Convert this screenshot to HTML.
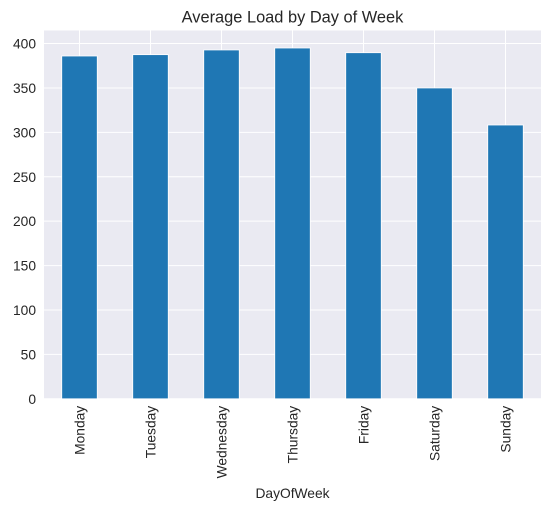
<!DOCTYPE html>
<html><head><meta charset="utf-8"><style>
body{margin:0;background:#fff;}
svg{display:block;font-family:"Liberation Sans","DejaVu Sans",sans-serif;}
</style></head><body>
<svg id="chart" width="548" height="512">
<text x="292.5" y="22.5" text-anchor="middle" font-size="16.4" fill="#262626">Average Load by Day of Week</text>
<rect x="44" y="30.5" width="497" height="368.3" fill="#eaeaf2"/>
<g id="grid"></g><g id="bars"></g><g id="ticks"></g>
<text x="292.5" y="498" text-anchor="middle" font-size="13.8" fill="#262626">DayOfWeek</text>
</svg>
<script>
const categories=["Monday","Tuesday","Wednesday","Thursday","Friday","Saturday","Sunday"];
const values=[386,387.5,392.8,395,389.7,350,308.3];
const yTicks=[0,50,100,150,200,250,300,350,400];
const NS="http://www.w3.org/2000/svg";
const L=44,R=541,B=398.8,T=30.5,YMAX=414.7;
const y=v=>B-(B-T)*v/YMAX;
const step=(R-L)/categories.length;
const x=i=>L+step*(i+0.5);
function mk(t,a,p){const e=document.createElementNS(NS,t);for(const k in a)e.setAttribute(k,a[k]);p.appendChild(e);return e;}
const g=document.getElementById('grid'),b=document.getElementById('bars'),tk=document.getElementById('ticks');
yTicks.forEach(v=>{
 const l=mk('line',{x1:L,x2:R,y1:y(v),y2:y(v),stroke:'#fff','stroke-width':1},g);
 
 
 const t=mk('text',{x:L-8,y:y(v)+5,'text-anchor':'end','font-size':13.8,fill:'#262626'},tk);
 t.textContent=v;
 
 
});
categories.forEach((c,i)=>{
 const l=mk('line',{x1:x(i),x2:x(i),y1:T,y2:B,stroke:'#fff','stroke-width':1},g);
 
 
 const w=step*0.5;
 const r=mk('rect',{x:x(i)-w/2,y:y(values[i]),width:w,height:B-y(values[i]),fill:'#1f77b4',stroke:'#fff','stroke-width':0.8},b);
 
 
 const t=mk('text',{x:0,y:0,'text-anchor':'end','font-size':13.8,fill:'#262626',transform:`translate(${x(i)+5},${B+7}) rotate(-90)`},tk);
 t.textContent=c;
 
 
});
</script>
</body></html>
